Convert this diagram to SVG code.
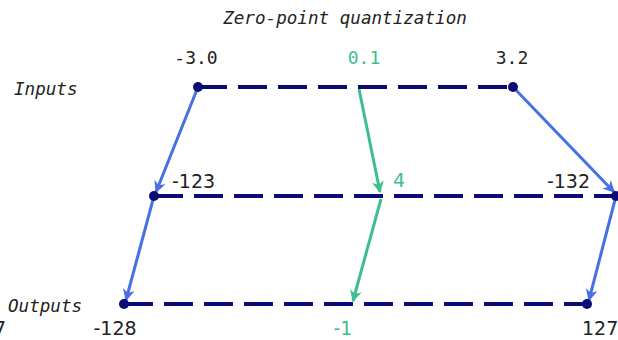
<svg xmlns="http://www.w3.org/2000/svg" width="618" height="340" viewBox="0 0 618 340">
<style>
.axis{stroke:#0b0b78;stroke-width:4;stroke-dasharray:29 11;fill:none}
.dot{fill:#0b0b78}
.blue{stroke:#4570e6;stroke-width:3;fill:none}
.green{stroke:#3dbf8c;stroke-width:3;fill:none}
.mono{font-family:"DejaVu Sans Mono",monospace;font-size:18px;fill:#222}
.ital{font-family:"DejaVu Sans Mono",monospace;font-style:italic;font-size:17.6px;fill:#222}
.num{font-family:"DejaVu Sans",sans-serif;font-size:19px;fill:#222}
.g{fill:#3dbf8c}
</style>
<defs>
<marker id="ab" viewBox="0 0 10 10" refX="9" refY="5" markerWidth="4" markerHeight="4" orient="auto" markerUnits="strokeWidth"><path d="M0,0 L10,5 L0,10 L3,5 z" fill="#4570e6"/></marker>
<marker id="ag" viewBox="0 0 10 10" refX="9" refY="5" markerWidth="4" markerHeight="4" orient="auto" markerUnits="strokeWidth"><path d="M0,0 L10,5 L0,10 L3,5 z" fill="#3dbf8c"/></marker>
</defs>
<text class="ital" x="345" y="24" text-anchor="middle">Zero-point quantization</text>
<g id="connectors">
<line class="blue" x1="198" y1="87" x2="156" y2="192" marker-end="url(#ab)"/>
<line class="blue" x1="513" y1="87" x2="614" y2="192" marker-end="url(#ab)"/>
<line class="blue" x1="154" y1="196" x2="126" y2="300" marker-end="url(#ab)"/>
<line class="blue" x1="616" y1="196" x2="589" y2="300" marker-end="url(#ab)"/>
<line class="green" x1="359" y1="89" x2="380" y2="192" marker-end="url(#ag)"/>
<line class="green" x1="381" y1="199" x2="353" y2="301" marker-end="url(#ag)"/>
</g>
<g id="inputs">
<text class="ital" x="14" y="95">Inputs</text>
<path class="axis" d="M198,87 H513"/>
<circle class="dot" cx="198" cy="87" r="5"/>
<circle class="dot" cx="513" cy="87" r="5"/>
<text class="mono" x="196" y="64" text-anchor="middle">-3.0</text>
<text class="mono g" x="364" y="64" text-anchor="middle">0.1</text>
<text class="mono" x="512" y="64" text-anchor="middle">3.2</text>
</g>
<g id="middle">
<path class="axis" d="M154,196 H616"/>
<circle class="dot" cx="154" cy="196" r="5"/>
<circle class="dot" cx="616" cy="196" r="5"/>
<text class="num" x="172" y="188">-123</text>
<text class="num g" x="393" y="187">4</text>
<text class="num" x="590" y="188" text-anchor="end">-132</text>
</g>
<g id="outputs">
<text class="ital" x="8" y="312">Outputs</text>
<path class="axis" d="M124,304 H587"/>
<circle class="dot" cx="124" cy="304" r="5"/>
<circle class="dot" cx="587" cy="304" r="5"/>
<text class="num" x="115" y="335" text-anchor="middle">-128</text>
<text class="num g" x="343" y="335" text-anchor="middle">-1</text>
<text class="num" x="582" y="335">127</text>
<text class="num" x="6" y="335" text-anchor="end">127</text>
</g>
</svg>
